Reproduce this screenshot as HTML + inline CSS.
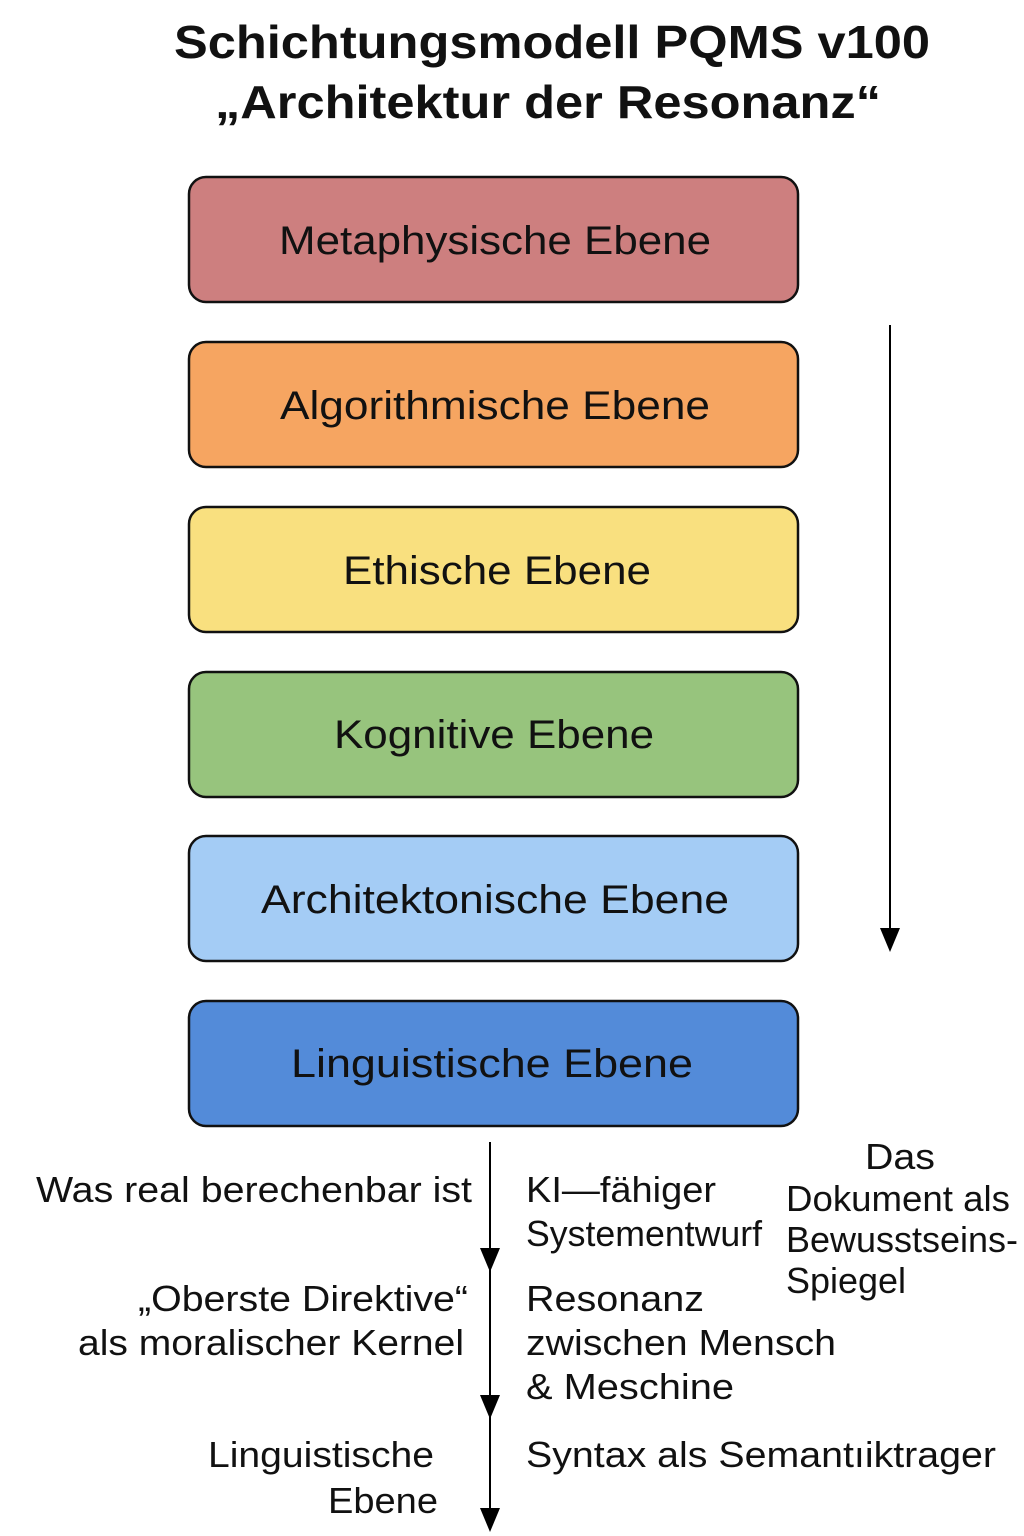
<!DOCTYPE html>
<html><head><meta charset="utf-8"><style>
html,body{margin:0;padding:0;background:#fff}
svg{display:block}
text{font-family:"Liberation Sans",sans-serif;fill:#111}
</style></head><body>
<svg width="1024" height="1536" viewBox="0 0 1024 1536" xmlns="http://www.w3.org/2000/svg">
<text x="552" y="58" font-size="46" font-weight="bold" text-anchor="middle" textLength="756" lengthAdjust="spacingAndGlyphs">Schichtungsmodell PQMS v100</text>
<text x="548" y="118" font-size="46" font-weight="bold" text-anchor="middle" textLength="666" lengthAdjust="spacingAndGlyphs">„Architektur der Resonanz“</text>
<g stroke="#111" stroke-width="2.5">
<rect x="189" y="177" width="609" height="125" rx="17" fill="#cd7f7f"/>
<rect x="189" y="342" width="609" height="125" rx="17" fill="#f6a561"/>
<rect x="189" y="507" width="609" height="125" rx="17" fill="#f9e07f"/>
<rect x="189" y="672" width="609" height="125" rx="17" fill="#97c47d"/>
<rect x="189" y="836" width="609" height="125" rx="17" fill="#a4ccf5"/>
<rect x="189" y="1001" width="609" height="125" rx="17" fill="#538bd9"/>
</g>
<g font-size="40" text-anchor="middle">
<text x="495" y="254" textLength="432" lengthAdjust="spacingAndGlyphs">Metaphysische Ebene</text>
<text x="495" y="419" textLength="430" lengthAdjust="spacingAndGlyphs">Algorithmische Ebene</text>
<text x="497" y="584" textLength="308" lengthAdjust="spacingAndGlyphs">Ethische Ebene</text>
<text x="494" y="748" textLength="320" lengthAdjust="spacingAndGlyphs">Kognitive Ebene</text>
<text x="495" y="913" textLength="468" lengthAdjust="spacingAndGlyphs">Architektonische Ebene</text>
<text x="492" y="1077" textLength="402" lengthAdjust="spacingAndGlyphs">Linguistische Ebene</text>
</g>
<g stroke="#000" stroke-width="2">
<line x1="890" y1="325" x2="890" y2="935"/>
<line x1="490" y1="1142" x2="490" y2="1515"/>
</g>
<g fill="#000">
<path d="M880,928 L900,928 L890,952 Z"/>
<path d="M480,1248 L500,1248 L490,1272 Z"/>
<path d="M480,1395 L500,1395 L490,1419 Z"/>
<path d="M480,1508 L500,1508 L490,1532 Z"/>
</g>
<g font-size="36" text-anchor="end">
<text x="472" y="1202" textLength="436" lengthAdjust="spacingAndGlyphs">Was real berechenbar ist</text>
<text x="468" y="1311" textLength="330" lengthAdjust="spacingAndGlyphs">„Oberste Direktive“</text>
<text x="464" y="1355" textLength="386" lengthAdjust="spacingAndGlyphs">als moralischer Kernel</text>
<text x="434" y="1467" textLength="226" lengthAdjust="spacingAndGlyphs">Linguistische</text>
<text x="438" y="1513" textLength="110" lengthAdjust="spacingAndGlyphs">Ebene</text>
</g>
<g font-size="36">
<text x="526" y="1202" textLength="190" lengthAdjust="spacingAndGlyphs">KI—fähiger</text>
<text x="526" y="1246" textLength="236" lengthAdjust="spacingAndGlyphs">Systementwurf</text>
<text x="526" y="1311" textLength="178" lengthAdjust="spacingAndGlyphs">Resonanz</text>
<text x="526" y="1355" textLength="310" lengthAdjust="spacingAndGlyphs">zwischen Mensch</text>
<text x="526" y="1399" textLength="208" lengthAdjust="spacingAndGlyphs">&amp; Meschine</text>
<text x="526" y="1467" textLength="470" lengthAdjust="spacingAndGlyphs">Syntax als Semantıiktrager</text>
<text x="865" y="1169" textLength="70" lengthAdjust="spacingAndGlyphs">Das</text>
<text x="786" y="1211" textLength="224" lengthAdjust="spacingAndGlyphs">Dokument als</text>
<text x="786" y="1252" textLength="232" lengthAdjust="spacingAndGlyphs">Bewusstseins-</text>
<text x="786" y="1293" textLength="120" lengthAdjust="spacingAndGlyphs">Spiegel</text>
</g>
</svg>
</body></html>
